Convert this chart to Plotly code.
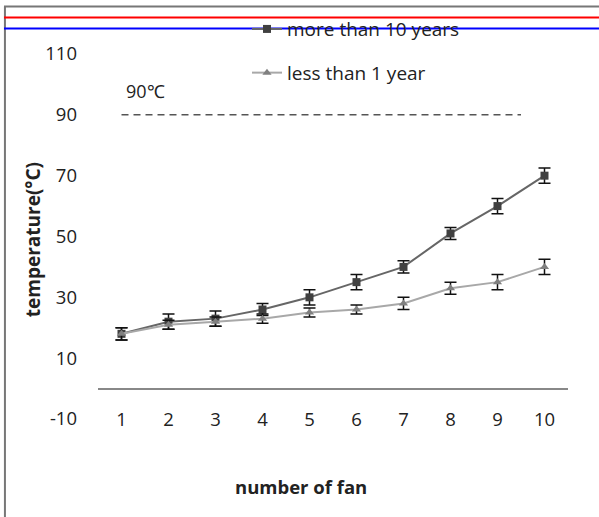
import plotly.graph_objects as go

fans = [1, 2, 3, 4, 5, 6, 7, 8, 9, 10]
more_than_10 = [18, 22, 23, 26, 30, 35, 40, 51, 60, 70]
more_err = [2, 2.5, 2.5, 2, 2.5, 2.5, 2, 2, 2.5, 2.5]
less_than_1 = [18, 21, 22, 23, 25, 26, 28, 33, 35, 40]
less_err = [2, 1.5, 1.5, 1.5, 1.5, 1.5, 2, 2, 2.5, 2.5]
y_ticks = [-10, 10, 30, 50, 70, 90, 110]
y_tick_text = ["-10", "10", "30", "50", "70", "90", "110"]
threshold = 90
threshold_span = [1, 9.5]
threshold_label = "90℃"

FONT = "Open Sans"
TXT = "#222222"

fig = go.Figure()
fig.add_trace(go.Scatter(
    x=fans, y=more_than_10, name="more than 10 years", mode="lines+markers",
    line=dict(color="#666666", width=2),
    marker=dict(symbol="square", size=8, color="#404040"),
    error_y=dict(type="data", array=more_err, color="#111111", thickness=1.5, width=6),
    legendgroup="a",
))
fig.add_trace(go.Scatter(
    x=fans, y=less_than_1, name="less than 1 year", mode="lines+markers",
    line=dict(color="#a8a8a8", width=2),
    marker=dict(symbol="triangle-up", size=8, color="#808080"),
    error_y=dict(type="data", array=less_err, color="#111111", thickness=1.5, width=6),
    legendgroup="b",
))

fig.add_shape(type="line", xref="x", yref="y",
              x0=threshold_span[0], x1=threshold_span[1], y0=threshold, y1=threshold,
              line=dict(color="#555555", width=1.5, dash="7px,5px"))
fig.add_annotation(x=threshold_span[0], y=threshold, xref="x", yref="y",
                   text=threshold_label, showarrow=False, xanchor="left", yanchor="middle",
                   xshift=2, yshift=24, font=dict(family=FONT, size=18, color=TXT))

# frame of the cropped chart border (left and top edges), in paper coords
fig.add_shape(type="line", xref="paper", yref="paper", x0=-0.198, x1=-0.198, y0=1.13, y1=-0.3,
              line=dict(color="#777777", width=2))
fig.add_shape(type="line", xref="paper", yref="paper", x0=-0.2, x1=1.1, y0=1.13, y1=1.13,
              line=dict(color="#777777", width=2))
fig.add_shape(type="line", xref="paper", yref="paper", x0=-0.2, x1=1.1, y0=1.10, y1=1.10,
              line=dict(color="#ff0000", width=2))
fig.add_shape(type="line", xref="paper", yref="paper", x0=-0.2, x1=1.1, y0=1.07, y1=1.07,
              line=dict(color="#0000ff", width=2))

fig.add_annotation(text="<b>temperature(°C)</b>", xref="paper", yref="paper", x=0, y=0.49,
                   xshift=-65, textangle=-90, showarrow=False, xanchor="center", yanchor="middle",
                   font=dict(family=FONT, size=19, color=TXT))
fig.add_annotation(text="<b>number of fan</b>", xref="paper", yref="paper", x=0.431, y=-0.186,
                   showarrow=False, xanchor="center", yanchor="middle",
                   font=dict(family=FONT, size=18.5, color=TXT))

fig.update_layout(
    width=599, height=517,
    margin=dict(l=98, r=31, t=54, b=98, autoexpand=False),
    paper_bgcolor="white", plot_bgcolor="white",
    font=dict(family=FONT, size=18, color=TXT),
    showlegend=True,
    legend=dict(x=0.317, y=1.008, xanchor="left", yanchor="middle",
                bgcolor="rgba(0,0,0,0)", font=dict(family=FONT, size=19, color=TXT),
                tracegroupgap=16, traceorder="grouped"),
    xaxis=dict(range=[0.5, 10.5], tickvals=fans, ticktext=[str(f) for f in fans],
               showgrid=False, zeroline=False, showline=False, ticks="",
               anchor="free", position=0.035,
               tickfont=dict(family=FONT, size=18.5, color=TXT)),
    yaxis=dict(range=[-10, 110], tickvals=y_ticks, ticktext=y_tick_text, showgrid=False,
               zeroline=True, zerolinecolor="#888888", zerolinewidth=1.5,
               showline=False, ticks="", ticklabelstandoff=20,
               tickfont=dict(family=FONT, size=18.5, color=TXT)),
)

fig.write_html("out.html", config={"displayModeBar": False},
               post_script="document.body.style.margin='0';document.body.style.overflow='hidden';")
